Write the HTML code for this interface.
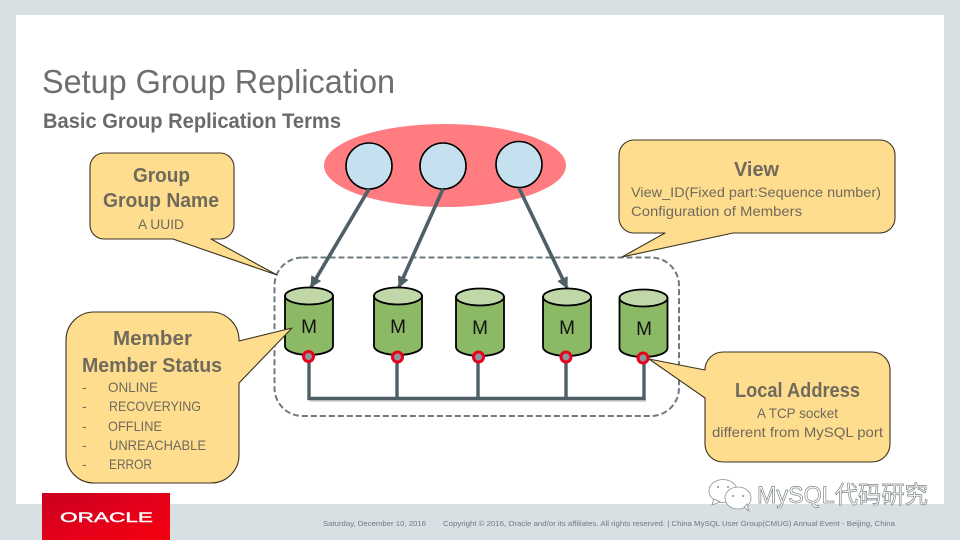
<!DOCTYPE html>
<html>
<head>
<meta charset="utf-8">
<style>
html,body{margin:0;padding:0;background:#d9e0e4}
svg{display:block}
text{font-family:"Liberation Sans","Noto Sans CJK SC",sans-serif}
</style>
</head>
<body>
<svg xmlns="http://www.w3.org/2000/svg" width="960" height="540" viewBox="0 0 960 540">
<defs>
<linearGradient id="red" x1="0" y1="0" x2="1" y2="1">
<stop offset="0" stop-color="#c8001e"/><stop offset=".5" stop-color="#e3001b"/><stop offset="1" stop-color="#f5000f"/>
</linearGradient>
<marker id="ah" viewBox="0 0 10 10" refX="9" refY="5" markerWidth="3.2" markerHeight="3.2" orient="auto-start-reverse">
<path d="M0 0L10 5L0 10Z" fill="#4f5f66"/>
</marker>
</defs>
<rect width="960" height="540" fill="#d9e0e4"/>
<rect x="16" y="15" width="928" height="489" fill="#fff"/>

<text x="42" y="93" font-size="33" fill="#6e6e6e" textLength="353" lengthAdjust="spacingAndGlyphs">Setup Group Replication</text>
<text x="43" y="128" font-size="21" font-weight="bold" fill="#6a6a6a" textLength="298" lengthAdjust="spacingAndGlyphs">Basic Group Replication Terms</text>

<!-- dashed group -->
<rect x="274.5" y="257.5" width="404.5" height="158.5" rx="28" fill="none" stroke="#6f7a80" stroke-width="2" stroke-dasharray="6 3"/>

<!-- ellipse -->
<ellipse cx="445" cy="165.5" rx="121" ry="41.5" fill="#ff7c80"/>
<g fill="#c5e1f0" stroke="#000" stroke-width="1.6">
<circle cx="369" cy="166" r="23"/>
<circle cx="443" cy="166" r="23"/>
<circle cx="519" cy="164.5" r="23"/>
</g>

<!-- arrows -->
<g stroke="#4f5f66" stroke-width="3.6" fill="none">
<line x1="369" y1="189" x2="311" y2="287" marker-end="url(#ah)"/>
<line x1="443" y1="189" x2="399" y2="287" marker-end="url(#ah)"/>
<line x1="519" y1="188" x2="567" y2="288" marker-end="url(#ah)"/>
</g>

<!-- bus -->
<path d="M310 400.500H646" stroke="#d4d8da" stroke-width="3" fill="none"/>
<g stroke="#4f5f66" stroke-width="3.400" fill="none">
<path d="M309 357V398.5H644V358"/>
<path d="M397 357V398M478 357V398M566 357V398"/>
</g>

<!-- cylinders -->
<g stroke="#000" stroke-width="1.800">
<path d="M285 296V346C285 351 296 355 309 355S333 351 333 346V296Z" fill="#8cb966"/>
<ellipse cx="309" cy="296" rx="24" ry="8.5" fill="#c0d8a8"/>
<path d="M374 296V346C374 351 385 355 398 355S422 351 422 346V296Z" fill="#8cb966"/>
<ellipse cx="398" cy="296" rx="24" ry="8.5" fill="#c0d8a8"/>
<path d="M456 297V347C456 352 467 356 480 356S504 352 504 347V297Z" fill="#8cb966"/>
<ellipse cx="480" cy="297" rx="24" ry="8.5" fill="#c0d8a8"/>
<path d="M543 297V347C543 352 554 356 567 356S591 352 591 347V297Z" fill="#8cb966"/>
<ellipse cx="567" cy="297" rx="24" ry="8.5" fill="#c0d8a8"/>
<path d="M619.500 298V348C619.500 353 630 357 643.500 357S667.500 353 667.500 348V298Z" fill="#8cb966"/>
<ellipse cx="643.500" cy="298" rx="24" ry="8.5" fill="#c0d8a8"/>
</g>
<g font-size="19" fill="#111" text-anchor="middle">
<text x="309" y="333">M</text>
<text x="398" y="333">M</text>
<text x="480" y="334">M</text>
<text x="567" y="334">M</text>
<text x="644" y="335">M</text>
</g>

<!-- ports -->
<g fill="#8d979b" stroke="#e8001f" stroke-width="3">
<circle cx="308.500" cy="356.500" r="5"/>
<circle cx="397.500" cy="357" r="5"/>
<circle cx="478.500" cy="357" r="5"/>
<circle cx="566" cy="357" r="5"/>
<circle cx="643" cy="358" r="5"/>
</g>

<!-- callouts -->
<g fill="#ffdd8f" stroke="#3a3320" stroke-width="1.1" stroke-linejoin="round">
<path d="M104 153H220A14 14 0 0 1 234 167V225A14 14 0 0 1 220 239H211L277 275L173 239H104A14 14 0 0 1 90 225V167A14 14 0 0 1 104 153Z"/>
<path d="M634 140H880A15 15 0 0 1 895 155V218A15 15 0 0 1 880 233H733L622 257L665 233H634A15 15 0 0 1 619 218V155A15 15 0 0 1 634 140Z"/>
<path d="M94 312H211A28 28 0 0 1 239 340V341L292 328L239 383V455A28 28 0 0 1 211 483H94A28 28 0 0 1 66 455V340A28 28 0 0 1 94 312Z"/>
<path d="M723 352H872A18 18 0 0 1 890 370V444A18 18 0 0 1 872 462H723A18 18 0 0 1 705 444V398L649 359L705 370A18 18 0 0 1 723 352Z"/>
</g>

<g fill="#6f6a5c">
<g font-weight="bold" font-size="20">
<text x="133" y="182" textLength="57" lengthAdjust="spacingAndGlyphs">Group</text>
<text x="103" y="207" textLength="116" lengthAdjust="spacingAndGlyphs">Group Name</text>
<text x="734" y="176" textLength="45" lengthAdjust="spacingAndGlyphs">View</text>
<text x="113" y="345" textLength="79" lengthAdjust="spacingAndGlyphs">Member</text>
<text x="82" y="372" textLength="140" lengthAdjust="spacingAndGlyphs">Member Status</text>
<text x="735" y="397" textLength="125" lengthAdjust="spacingAndGlyphs">Local Address</text>
</g>
<g font-size="14">
<text x="138" y="229" textLength="46" lengthAdjust="spacingAndGlyphs">A UUID</text>
<text x="631" y="197" textLength="250" lengthAdjust="spacingAndGlyphs">View_ID(Fixed part:Sequence number)</text>
<text x="631" y="216" textLength="171" lengthAdjust="spacingAndGlyphs">Configuration of Members</text>
<text x="82" y="392">-</text><text x="108" y="392" textLength="50" lengthAdjust="spacingAndGlyphs">ONLINE</text>
<text x="82" y="411">-</text><text x="109" y="411" textLength="92" lengthAdjust="spacingAndGlyphs">RECOVERYING</text>
<text x="82" y="431">-</text><text x="108" y="431" textLength="54" lengthAdjust="spacingAndGlyphs">OFFLINE</text>
<text x="82" y="450">-</text><text x="109" y="450" textLength="97" lengthAdjust="spacingAndGlyphs">UNREACHABLE</text>
<text x="82" y="469">-</text><text x="109" y="469" textLength="43" lengthAdjust="spacingAndGlyphs">ERROR</text>
<text x="757" y="418" textLength="81" lengthAdjust="spacingAndGlyphs">A TCP socket</text>
<text x="712" y="437" textLength="171" lengthAdjust="spacingAndGlyphs">different from MySQL port</text>
</g>
</g>

<!-- footer -->
<rect x="42" y="493" width="128" height="47" fill="url(#red)"/>
<text x="60" y="522" font-size="14" fill="#fff" stroke="#fff" stroke-width="0.4" textLength="93" lengthAdjust="spacingAndGlyphs">ORACLE</text>
<g font-size="7.500" fill="#6b7b83">
<text x="323" y="526" textLength="103" lengthAdjust="spacingAndGlyphs">Saturday, December 10, 2016</text>
<text x="443" y="526" textLength="452" lengthAdjust="spacingAndGlyphs">Copyright © 2016, Oracle and/or its affiliates. All rights reserved.  |  China MySQL User Group(CMUG) Annual Event - Beijing, China</text>
</g>

<!-- watermark -->
<g fill="#fff" stroke="#8a9296" stroke-width="0.8">
<ellipse cx="723" cy="491" rx="14" ry="11.500"/>
<path d="M714 499L712 505L720 502Z"/>
<ellipse cx="738" cy="498" rx="13" ry="11"/>
<path d="M744 507L749 511L747 504Z"/>
</g>
<g fill="#8a9296">
<circle cx="718" cy="487" r="1"/><circle cx="728" cy="487" r="1"/>
<circle cx="733" cy="496" r="1"/><circle cx="743" cy="496" r="1"/>
</g>
<text x="757" y="503" font-size="24" fill="#fff" stroke="#7d8589" stroke-width="0.7" textLength="171" lengthAdjust="spacingAndGlyphs">MySQL代码研究</text>
</svg>
</body>
</html>
